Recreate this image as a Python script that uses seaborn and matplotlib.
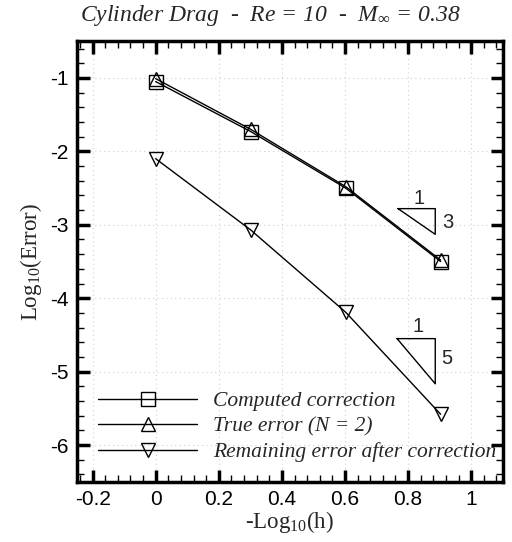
import matplotlib
matplotlib.use("Agg")
import matplotlib.pyplot as plt
import seaborn as sns
import pandas as pd
from matplotlib.ticker import MultipleLocator

# Data
x_vals = [0.0, 0.301, 0.602, 0.903]
computed = [-1.05, -1.73, -2.50, -3.50]
true_err = [-1.01, -1.70, -2.48, -3.48]
remaining = [-2.10, -3.07, -4.19, -5.58]
series_names = ["Computed correction", "True error (N = 2)", "Remaining error after correction"]

sns.set_theme(style="white")
plt.rcParams["font.family"] = ["Liberation Sans", "DejaVu Sans"]
plt.rcParams["mathtext.fontset"] = "custom"
plt.rcParams["mathtext.rm"] = "Liberation Serif"
plt.rcParams["mathtext.it"] = "Liberation Serif:italic"
plt.rcParams["mathtext.bf"] = "Liberation Serif:bold"

fig = plt.figure(figsize=(5.12, 5.42), dpi=100)
ax = fig.add_axes([0.150, 0.111, 0.832, 0.813])

markers = ["s", "^", "v"]
for name, vals, mk in zip(series_names, [computed, true_err, remaining], markers):
    df = pd.DataFrame({"x": x_vals, "y": vals})
    sns.lineplot(data=df, x="x", y="y", ax=ax, color="black", lw=1.0,
                 marker=mk, markersize=10, markerfacecolor="none",
                 markeredgecolor="black", markeredgewidth=1.0, label=name,
                 zorder=3)

ax.set_xlim(-0.25, 1.1)
ax.set_ylim(-6.5, -0.5)
ax.xaxis.set_minor_locator(MultipleLocator(0.04))
ax.yaxis.set_minor_locator(MultipleLocator(0.2))
ax.set_xticks([-0.2, 0, 0.2, 0.4, 0.6, 0.8, 1.0])
ax.set_xticklabels(["-0.2", "0", "0.2", "0.4", "0.6", "0.8", "1"])
ax.set_yticks([-1, -2, -3, -4, -5, -6])
ax.set_yticklabels(["-1", "-2", "-3", "-4", "-5", "-6"])

ax.tick_params(which="both", direction="in", top=True, right=True, bottom=True, left=True,
               labelsize=15, colors="black")
ax.tick_params(which="major", length=9, width=2.5, pad=6)
ax.tick_params(which="minor", length=5, width=1.0)
for sp in ax.spines.values():
    sp.set_linewidth(2.5)
    sp.set_color("black")

ax.grid(True, which="major", color="#d0d0d0", linestyle=(0, (1, 3)), linewidth=0.8)

ax.set_xlabel(r"-Log$_{10}$(h)", fontsize=16.5, labelpad=0, family="Liberation Serif")
ax.set_ylabel(r"Log$_{10}$(Error)", fontsize=16.5, labelpad=4, family="Liberation Serif")

fig.text(0.527, 0.972, r"Cylinder Drag  -  Re = 10  -  $M_{\infty}$ = 0.38",
         ha="center", va="center", fontsize=17, family="Liberation Serif", style="italic")

# Slope triangles
ax.plot([0.768, 0.886, 0.886, 0.768], [-2.78, -2.78, -3.13, -2.78], color="black", lw=1.0)
ax.text(0.835, -2.64, "1", fontsize=14.5, ha="center", va="center")
ax.text(0.926, -2.97, "3", fontsize=14.5, ha="center", va="center")
ax.plot([0.765, 0.886, 0.886, 0.765], [-4.55, -4.55, -5.165, -4.55], color="black", lw=1.0)
ax.text(0.832, -4.38, "1", fontsize=14.5, ha="center", va="center")
ax.text(0.924, -4.82, "5", fontsize=14.5, ha="center", va="center")

leg = ax.legend(loc="lower left", bbox_to_anchor=(0.03, 0.025), frameon=False,
                handlelength=4.6, handletextpad=0.75, labelspacing=0.25, numpoints=1,
                borderaxespad=0.0,
                prop={"family": "Liberation Serif", "style": "italic", "size": 15.5})

fig.savefig("out.png", dpi=100)
